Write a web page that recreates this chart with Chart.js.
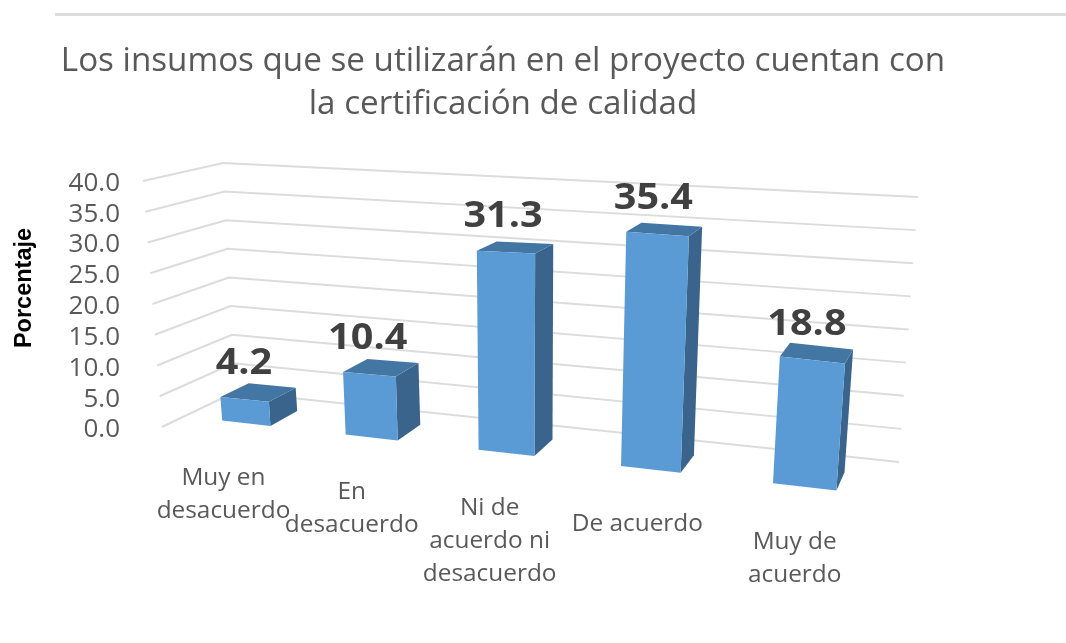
<!DOCTYPE html>
<html lang="es">
<head>
<meta charset="utf-8">
<title>Certificación de calidad</title>
<script src="https://cdn.jsdelivr.net/npm/chart.js@4/dist/chart.umd.min.js"></script>
<style>
    html, body { margin: 0; padding: 0; background: #fff; overflow: hidden; }
    #linea { position: absolute; left: 55px; right: 0; top: 13px; height: 3px; background: #dcdcdc; }
    #grafico { position: absolute; left: 0; top: 0; filter: blur(0.5px); }
</style>
</head>
<body>
<div id="linea"></div>
<canvas id="grafico" width="1006" height="643"></canvas>
<script>
// Datos
const categorias = [
    ['Muy en', 'desacuerdo'],
    ['En', 'desacuerdo'],
    ['Ni de', 'acuerdo ni', 'desacuerdo'],
    ['De acuerdo'],
    ['Muy de', 'acuerdo']
];
const valores = [4.2, 10.4, 31.3, 35.4, 18.8];
const etiquetasY = ['0.0', '5.0', '10.0', '15.0', '20.0', '25.0', '30.0', '35.0', '40.0'];
const tituloGrafico = ['Los insumos que se utilizarán en el proyecto cuentan con', 'la certificación de calidad'];
const tituloEjeY = 'Porcentaje';

// Colores de las caras de la barra
const colorFrente = '#5b9bd5';
const colorTapa = '#4476a4';
const colorLado = '#3a648b';
const colorRejilla = '#dcdcdc';
const colorTexto = '#595959';

function mezcla(a, b, t) {
    return a + (b - a) * t;
}

// Pasa de (u, t) del área del gráfico a la pantalla, en el plano frontal de las barras
function planoBarras(u, t) {
    const p = 0.83 * u + 0.17 * u * u; // perspectiva horizontal
    const abajoX = mezcla(187, 885, p), abajoY = mezcla(416.4, 496, p);
    const arribaX = abajoX - 19 + 40 * p;
    const arribaY = abajoY - 40 * (5.45 + 2.8 * p - 1.5 * p * p);
    return { x: mezcla(abajoX, arribaX, t), y: mezcla(abajoY, arribaY, t), p: p };
}

// Igual, pero en la cara trasera de la barra
function planoFondoBarra(u, t) {
    const f = planoBarras(u, t);
    return { x: f.x + 29.5 - 23 * f.p, y: f.y - 14.5 - 4 * f.p + 9 * t };
}

function poligono(ctx, puntos, color) {
    ctx.beginPath();
    puntos.forEach((p, i) => i ? ctx.lineTo(p.x, p.y) : ctx.moveTo(p.x, p.y));
    ctx.closePath();
    ctx.fillStyle = color;
    ctx.fill();
}

// Plugin que dibuja las paredes y las barras en 3D a partir de las escalas del gráfico
const vista3d = {
    id: 'vista3d',
    beforeDatasetsDraw(chart) {
        const { ctx, scales: { y } } = chart;
        ctx.save();
        ctx.strokeStyle = colorRejilla;
        ctx.lineWidth = 2;
        y.ticks.forEach(tick => {
            const t = (y.bottom - y.getPixelForValue(tick.value)) / (y.bottom - y.top);
            ctx.beginPath();
            ctx.moveTo(mezcla(162, 143, t), mezcla(427, 181, t));
            ctx.lineTo(mezcla(235, 223, t), mezcla(392, 163, t));
            ctx.lineTo(mezcla(899, 918, t), mezcla(462, 197, t));
            ctx.stroke();
        });
        ctx.restore();
    },
    afterDatasetsDraw(chart) {
        const { ctx, chartArea: area, scales: { y } } = chart;
        const ancho = area.right - area.left;
        const alto = y.bottom - y.top;
        ctx.save();
        chart.getDatasetMeta(0).data.forEach((barra, i) => {
            const u1 = (barra.x - barra.width / 2 - area.left) / ancho;
            const u2 = (barra.x + barra.width / 2 - area.left) / ancho;
            const uc = (barra.x - area.left) / ancho;
            const t = (y.bottom - barra.y) / alto;

            const a = planoBarras(u1, 0), b = planoBarras(u2, 0);
            const c = planoBarras(u2, t), d = planoBarras(u1, t);
            const fb = planoFondoBarra(u2, 0), fc = planoFondoBarra(u2, t), fd = planoFondoBarra(u1, t);

            poligono(ctx, [b, fb, fc, c], colorLado);
            poligono(ctx, [d, c, fc, fd], colorTapa);
            poligono(ctx, [a, b, c, d], colorFrente);

            // Valor sobre la barra
            const cima = planoBarras(uc, t);
            ctx.fillStyle = '#404040';
            ctx.font = 'bold 36px "Open Sans"';
            ctx.textAlign = 'center';
            ctx.textBaseline = 'middle';
            ctx.save();
            ctx.translate(cima.x - 6 * cima.p, cima.y - 35.5);
            ctx.scale(1.1, 1);
            ctx.fillText(valores[i].toFixed(1), 0, 0);
            ctx.restore();

            // Etiqueta de la categoría, siguiendo la inclinación de la base
            const base = planoBarras(uc, 0);
            ctx.fillStyle = colorTexto;
            ctx.font = '24.4px "Open Sans"';
            categorias[i].forEach((linea, n) => {
                ctx.fillText(linea, base.x - 24 + 16 * base.p, base.y + 55 + n * 33);
            });
        });

        // Título del eje Y
        ctx.translate(25, 288);
        ctx.rotate(-Math.PI / 2);
        ctx.fillStyle = '#000';
        ctx.font = 'bold 23.5px "Liberation Sans"';
        ctx.fillText(tituloEjeY, 0, 0);
        ctx.restore();
    }
};

new Chart(document.getElementById('grafico').getContext('2d'), {
    type: 'bar',
    data: {
        labels: categorias,
        datasets: [{
            label: tituloEjeY,
            data: valores,
            backgroundColor: 'rgba(0,0,0,0)', // las caras las pinta el plugin
            categoryPercentage: 1,
            barPercentage: 0.4
        }]
    },
    options: {
        responsive: false,
        animation: false,
        layout: { padding: { left: 0, right: 0, top: 0, bottom: 213 } },
        plugins: {
            legend: { display: false },
            tooltip: { enabled: false },
            title: {
                display: true,
                text: tituloGrafico,
                color: colorTexto,
                font: { family: '"Open Sans"', size: 33.2, weight: 'normal', lineHeight: 1.3 },
                padding: { top: 40, bottom: 57 }
            }
        },
        scales: {
            x: { display: false },
            y: {
                min: 0,
                max: 40,
                afterFit(scale) { scale.width = 120; },
                grid: { display: false, drawTicks: false },
                border: { display: false },
                ticks: {
                    stepSize: 5,
                    autoSkip: false,
                    padding: 0,
                    color: colorTexto,
                    font: { family: '"Open Sans"', size: 26 },
                    callback: (valor, i) => etiquetasY[i]
                }
            }
        }
    },
    plugins: [vista3d]
});
</script>
</body>
</html>
